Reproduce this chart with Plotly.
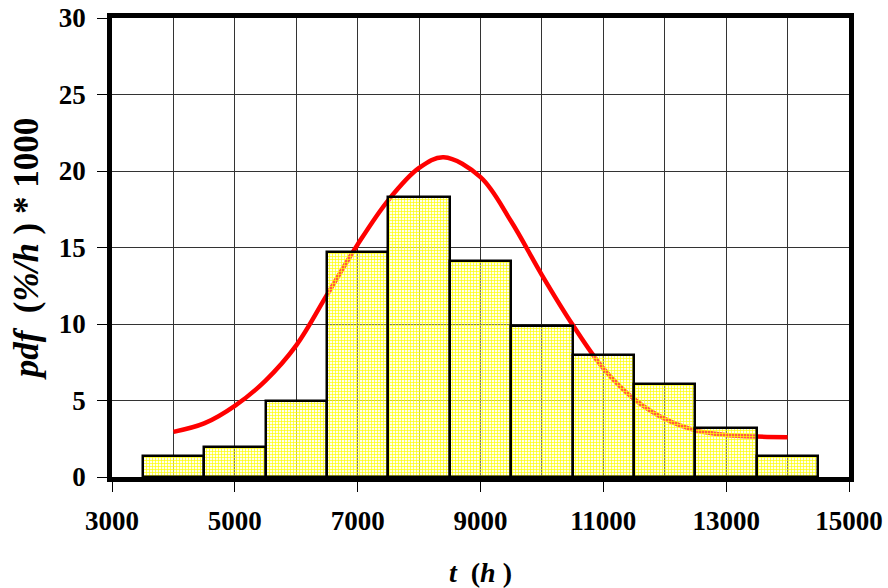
import plotly.graph_objects as go

# Histogram data
bin_centers = [4000, 5000, 6000, 7000, 8000, 9000, 10000, 11000, 12000, 13000, 14000]
bin_heights = [1.4, 1.95, 5.0, 14.7, 18.3, 14.1, 9.9, 8.0, 6.1, 3.2, 1.4]

# Fitted pdf curve
curve_t = [4000, 4500, 5000, 5500, 6000, 6500, 7000, 7500, 8000, 8400, 9000,
           9500, 10000, 10500, 11000, 11500, 12000, 12500, 13000, 13500, 14000]
curve_pdf = [2.95, 3.5, 4.65, 6.3, 8.6, 11.9, 15.2, 18.1, 20.2, 20.9, 19.6,
             16.7, 13.2, 9.95, 7.1, 5.1, 3.8, 3.05, 2.75, 2.64, 2.6]

x_ticks = [3000, 5000, 7000, 9000, 11000, 13000, 15000]
y_ticks = [0, 5, 10, 15, 20, 25, 30]
x_range = [3000, 15000]
y_range = [0, 30]

font_family = "Liberation Serif, Times New Roman, serif"

fig = go.Figure()
fig.add_trace(go.Scatter(
    x=curve_t, y=curve_pdf, mode="lines",
    line=dict(color="#ff0000", width=4.5, shape="spline", smoothing=1.0),
    showlegend=False, hoverinfo="skip",
))
fig.add_trace(go.Bar(
    x=bin_centers, y=bin_heights, width=1000,
    xaxis="x2", yaxis="y2",
    marker=dict(color="rgba(255,255,255,0)", line=dict(color="black", width=2.5),
                pattern=dict(shape="+", fgcolor="#ffff00", bgcolor="rgba(255,255,210,0.35)",
                             fgopacity=1, size=3, solidity=0.4)),
    showlegend=False, hoverinfo="skip",
))

fig.update_layout(
    width=888, height=588,
    margin=dict(l=112, r=39, t=18, b=111),
    plot_bgcolor="white", paper_bgcolor="white",
    font=dict(family=font_family, color="black"),
    bargap=0,
    xaxis=dict(
        range=x_range, tickvals=x_ticks, ticktext=[str(v) for v in x_ticks],
        showgrid=True, gridcolor="#333333", gridwidth=1,
        minor=dict(dtick=1000, tick0=3000, showgrid=True, gridcolor="#333333", gridwidth=1),
        ticks="outside", ticklen=10, tickcolor="black", tickwidth=1,
        ticklabelstandoff=6, ticklabeloverflow="allow",
        showline=True, linecolor="black", linewidth=4.5, mirror=True,
        tickfont=dict(size=27, family=font_family, weight="bold"),
        zeroline=False, automargin=False,
        title=dict(text="<b><i>t</i>  (<i>h</i> )</b>", font=dict(size=28, family=font_family), standoff=29),
    ),
    yaxis=dict(
        range=y_range, tickvals=y_ticks,
        showgrid=True, gridcolor="#333333", gridwidth=1,
        ticks="outside", ticklen=10, tickcolor="black", tickwidth=1,
        ticklabelstandoff=6, ticklabeloverflow="allow",
        showline=True, linecolor="black", linewidth=4.5, mirror=True,
        tickfont=dict(size=27, family=font_family, weight="bold"),
        zeroline=False, automargin=False,
        title=dict(text="<b><i>pdf</i>  (<i>%/h</i> ) * 1000</b>", font=dict(size=35, family=font_family), standoff=11),
    ),
    xaxis2=dict(range=x_range, overlaying="x", visible=False, showgrid=False, zeroline=False),
    yaxis2=dict(range=y_range, overlaying="y", visible=False, showgrid=False, zeroline=False),
)

# remove the browser's default 8px page margin so the figure fills the window exactly
fig.write_html("out.html", config={"displayModeBar": False},
               post_script="document.body.style.margin='0';")
